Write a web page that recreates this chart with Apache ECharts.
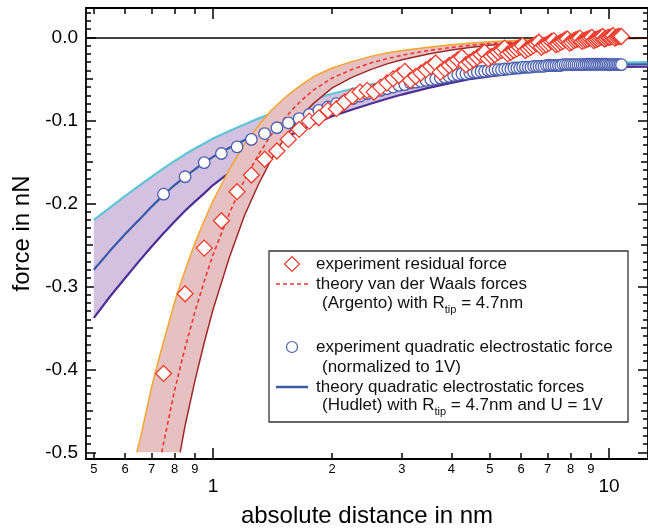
<!DOCTYPE html>
<html><head><meta charset="utf-8">
<script src="https://cdn.jsdelivr.net/npm/echarts@6/dist/echarts.min.js"></script>
<style>html,body{margin:0;padding:0;background:#fff}#c{width:648px;height:532px}</style>
</head><body><div id="c"></div>
<script>
// ---------- data ----------
// electrostatic theory (Hudlet) : band upper edge, centre line, lower edge
const eDist   = [0.5,0.55,0.6,0.65,0.7,0.75,0.8,0.85,0.9,0.95,1.0,1.1,1.2,1.3,1.4,1.5,1.6,1.7,1.8,2.0,2.25,2.5,2.75,3.0,3.5,4.0,4.5,5.0,6.0,7.0,8.0,9.0,10.0,12.5];
const eUpper  = [-0.220,-0.205,-0.191,-0.179,-0.168,-0.158,-0.149,-0.141,-0.134,-0.128,-0.122,-0.113,-0.105,-0.098,-0.092,-0.087,-0.082,-0.078,-0.074,-0.068,-0.062,-0.057,-0.053,-0.050,-0.045,-0.041,-0.038,-0.036,-0.034,-0.0325,-0.0318,-0.0312,-0.0308,-0.030];
const eCenter = [-0.280,-0.257,-0.237,-0.220,-0.204,-0.190,-0.178,-0.168,-0.159,-0.151,-0.144,-0.133,-0.124,-0.116,-0.109,-0.103,-0.098,-0.093,-0.088,-0.080,-0.073,-0.067,-0.062,-0.058,-0.051,-0.046,-0.042,-0.040,-0.037,-0.035,-0.034,-0.0335,-0.033,-0.0325];
const eLower  = [-0.338,-0.312,-0.290,-0.270,-0.252,-0.236,-0.222,-0.209,-0.198,-0.188,-0.178,-0.163,-0.150,-0.140,-0.131,-0.123,-0.116,-0.110,-0.104,-0.095,-0.087,-0.080,-0.074,-0.069,-0.061,-0.055,-0.050,-0.047,-0.0425,-0.040,-0.038,-0.037,-0.036,-0.0355];

// van der Waals theory (Argento) : band upper edge, centre (dashed), lower edge
const vDist   = [0.642,0.66,0.68,0.70,0.72,0.742,0.76,0.78,0.80,0.826,0.85,0.90,0.95,1.0,1.1,1.2,1.3,1.4,1.5,1.6,1.7,1.8,2.0,2.25,2.5,2.75,3.0,3.5,4.0,4.5,5.0,6.0,7.0,8.0,9.0,10.0,12.5];
const vUpper  = [-0.500,-0.477,-0.448,-0.421,-0.398,-0.375,-0.357,-0.338,-0.319,-0.298,-0.281,-0.248,-0.221,-0.197,-0.159,-0.129,-0.107,-0.0885,-0.075,-0.064,-0.055,-0.047,-0.037,-0.029,-0.023,-0.019,-0.016,-0.012,-0.009,-0.007,-0.0055,-0.0036,-0.0025,-0.0018,-0.0013,-0.001,-0.0006];
const vCenter = [-0.672,-0.636,-0.597,-0.561,-0.530,-0.500,-0.476,-0.450,-0.425,-0.398,-0.374,-0.331,-0.294,-0.262,-0.212,-0.172,-0.142,-0.118,-0.100,-0.085,-0.073,-0.063,-0.049,-0.0385,-0.031,-0.0258,-0.0217,-0.0159,-0.0122,-0.0095,-0.0076,-0.0050,-0.0035,-0.0025,-0.0019,-0.0014,-0.0008];
const vLower  = [-0.84,-0.795,-0.746,-0.701,-0.663,-0.625,-0.595,-0.5625,-0.531,-0.500,-0.468,-0.414,-0.368,-0.328,-0.265,-0.215,-0.178,-0.148,-0.125,-0.106,-0.091,-0.079,-0.061,-0.048,-0.039,-0.032,-0.027,-0.020,-0.0153,-0.0119,-0.0095,-0.0063,-0.0044,-0.0031,-0.0024,-0.0018,-0.001];

// experiments
const expDist = [
 0.75,0.85,0.95,1.05,1.15,1.25,1.35,1.45,1.55,1.65,
 1.75,1.85,1.95,2.05,2.15,2.25,2.35,2.45,2.55,2.65,
 2.75,2.85,2.95,3.05,3.15,3.25,3.35,3.45,3.55,3.65,
 3.75,3.85,3.95,4.05,4.15,4.25,4.35,4.45,4.55,4.65,
 4.75,4.85,4.95,5.05,5.15,5.25,5.35,5.45,5.55,5.65,
 5.75,5.85,5.95,6.05,6.15,6.25,6.35,6.45,6.55,6.65,
 6.75,6.85,6.95,7.05,7.15,7.25,7.35,7.45,7.55,7.65,
 7.75,7.85,7.95,8.05,8.15,8.25,8.35,8.45,8.55,8.65,
 8.75,8.85,8.95,9.05,9.15,9.25,9.35,9.45,9.55,9.65,
 9.75,9.85,9.95,10.05,10.15,10.25,10.35,10.45,10.55,10.65,
 10.75];
const expResidual = [
 -0.405,-0.309,-0.254,-0.221,-0.186,-0.166,-0.147,-0.137,-0.123,-0.111,
 -0.101,-0.097,-0.088,-0.086,-0.078,-0.071,-0.066,-0.064,-0.066,-0.060,
 -0.055,-0.050,-0.046,-0.041,-0.052,-0.047,-0.043,-0.039,-0.035,-0.031,
 -0.042,-0.038,-0.034,-0.031,-0.027,-0.024,-0.033,-0.030,-0.027,-0.024,
 -0.021,-0.018,-0.026,-0.023,-0.021,-0.018,-0.016,-0.013,-0.020,-0.018,
 -0.016,-0.014,-0.012,-0.010,-0.016,-0.014,-0.012,-0.010,-0.008,-0.006,
 -0.012,-0.010,-0.009,-0.007,-0.005,-0.004,-0.009,-0.008,-0.006,-0.005,
 -0.003,-0.002,-0.007,-0.006,-0.004,-0.003,-0.002,-0.001,-0.005,-0.004,
 -0.003,-0.002,-0.001,0.000,-0.004,-0.003,-0.002,-0.001,0.000,0.001,
 -0.002,-0.001,0.000,0.000,0.001,0.002,-0.001,0.000,0.001,0.001,
 0.001];
const expElectro = [
 -0.189,-0.168,-0.151,-0.140,-0.132,-0.123,-0.116,-0.109,-0.103,-0.098,
 -0.093,-0.088,-0.084,-0.080,-0.077,-0.074,-0.071,-0.068,-0.066,-0.064,
 -0.062,-0.060,-0.058,-0.057,-0.055,-0.054,-0.053,-0.052,-0.051,-0.050,
 -0.049,-0.048,-0.047,-0.046,-0.045,-0.044,-0.044,-0.043,-0.042,-0.042,
 -0.041,-0.041,-0.040,-0.040,-0.039,-0.039,-0.039,-0.038,-0.038,-0.038,
 -0.037,-0.037,-0.037,-0.036,-0.036,-0.036,-0.036,-0.035,-0.035,-0.035,
 -0.035,-0.035,-0.034,-0.034,-0.034,-0.034,-0.034,-0.034,-0.034,-0.033,
 -0.033,-0.033,-0.033,-0.033,-0.033,-0.033,-0.033,-0.033,-0.033,-0.033,
 -0.0325,-0.0325,-0.0325,-0.0325,-0.0325,-0.0325,-0.0325,-0.0325,-0.0325,-0.0325,
 -0.0325,-0.0325,-0.033,-0.033,-0.033,-0.033,-0.033,-0.033,-0.033,-0.033,
 -0.033];

// ticks and tick labels
const xMinorTicks  = [0.5,0.6,0.7,0.8,0.9,2,3,4,5,6,7,8,9];
const xMinorLabels = ['5','6','7','8','9','2','3','4','5','6','7','8','9'];
const xMajorTicks  = [1,10];
const xMajorLabels = ['1','10'];
const yMajorTicks  = [0,-0.1,-0.2,-0.3,-0.4,-0.5];
const yMajorLabels = ['0.0','-0.1','-0.2','-0.3','-0.4','-0.5'];
const yMidTicks    = [-0.05,-0.15,-0.25,-0.35,-0.45];
const yMinorTicks  = [0.03,0.02,0.01,-0.01,-0.02,-0.03,-0.04,-0.06,-0.07,-0.08,-0.09,
  -0.11,-0.12,-0.13,-0.14,-0.16,-0.17,-0.18,-0.19,-0.21,-0.22,-0.23,-0.24,-0.26,-0.27,-0.28,-0.29,
  -0.31,-0.32,-0.33,-0.34,-0.36,-0.37,-0.38,-0.39,-0.41,-0.42,-0.43,-0.44,-0.46,-0.47,-0.48,-0.49];

// ---------- chart ----------
const FONT = '"Liberation Sans", Arial, Helvetica, sans-serif';
const X_MIN = 0.47775, X_MAX = 12.546, Y_MIN = -0.5081, Y_MAX = 0.0353;
const CLIP = -0.5;

function lookup(vals, labels, v) {
  for (let i = 0; i < vals.length; i++) {
    if (Math.abs(vals[i] - v) <= 1e-6 + Math.abs(vals[i]) * 1e-6) return labels[i];
  }
  return '';
}
function pairs(xs, ys) { return xs.map((x, i) => [x, ys[i]]); }
function pairsClipped(xs, ys) { return xs.map((x, i) => [x, ys[i]]).filter(p => p[1] >= CLIP - 1e-9); }

function xAx(position, ticks, len, showLine, label, extra) {
  return Object.assign({
    type: 'log', logBase: 10, min: X_MIN, max: X_MAX, position: position, offset: 0,
    axisLine: { show: showLine, onZero: false, lineStyle: { color: '#000', width: 1.8 } },
    axisTick: { show: true, inside: true, length: len, customValues: ticks, lineStyle: { color: '#000', width: 1.5 } },
    axisLabel: label || { show: false },
    splitLine: { show: false }, minorTick: { show: false }, minorSplitLine: { show: false }
  }, extra || {});
}
function yAx(position, ticks, len, showLine, label, extra) {
  return Object.assign({
    type: 'value', min: Y_MIN, max: Y_MAX, position: position, offset: 0,
    axisLine: { show: showLine, onZero: false, lineStyle: { color: '#000', width: 1.8 } },
    axisTick: { show: true, inside: true, length: len, customValues: ticks, lineStyle: { color: '#000', width: 1.5 } },
    axisLabel: label || { show: false },
    splitLine: { show: false }, minorTick: { show: false }
  }, extra || {});
}

// band polygon (upper edge forward, lower edge backward), mapped through the axes via api.coord
function bandSeries(name, xs, up, lo, color, z) {
  const upC = up.map(v => Math.max(v, CLIP));
  const loC = lo.map(v => Math.max(v, CLIP));
  return {
    name: name, type: 'custom', coordinateSystem: 'cartesian2d', z: z, silent: true,
    data: [[xs[0], upC[0]]],
    renderItem: function (params, api) {
      const pts = [];
      for (let i = 0; i < xs.length; i++) pts.push(api.coord([xs[i], upC[i]]));
      for (let i = xs.length - 1; i >= 0; i--) pts.push(api.coord([xs[i], loC[i]]));
      const cs = params.coordSys;
      return {
        type: 'polygon', shape: { points: pts }, style: { fill: color, stroke: 'none' },
        clipPath: { type: 'rect', shape: { x: cs.x, y: cs.y, width: cs.width, height: cs.height } }
      };
    }
  };
}

const option = {
  animation: false,
  backgroundColor: '#fff',
  grid: { left: 86, right: 0, top: 8, bottom: 73, containLabel: false, outerBoundsMode: 'none' },
  xAxis: [
    xAx('bottom', xMinorTicks, 6, true,
      { show: true, customValues: xMinorTicks, margin: 4, fontSize: 13, color: '#000', fontFamily: FONT,
        formatter: v => lookup(xMinorTicks, xMinorLabels, v) },
      { name: 'absolute distance in nm', nameLocation: 'middle', nameGap: 45,
        nameTextStyle: { fontSize: 24, color: '#000', fontFamily: FONT } }),
    xAx('bottom', xMajorTicks, 11, false,
      { show: true, customValues: xMajorTicks, margin: 18, fontSize: 19, color: '#000', fontFamily: FONT,
        formatter: v => lookup(xMajorTicks, xMajorLabels, v) }),
    xAx('top', xMinorTicks, 6, true),
    xAx('top', xMajorTicks, 11, false)
  ],
  yAxis: [
    yAx('left', yMajorTicks, 10, true,
      { show: true, customValues: yMajorTicks, margin: 8, fontSize: 19, color: '#000', fontFamily: FONT,
        formatter: v => lookup(yMajorTicks, yMajorLabels, v) },
      { name: 'force in nN', nameLocation: 'middle', nameGap: 50, nameRotate: 90,
        nameTextStyle: { fontSize: 24, color: '#000', fontFamily: FONT } }),
    yAx('left', yMidTicks, 7, false),
    yAx('left', yMinorTicks, 5, false),
    yAx('right', yMajorTicks, 10, true),
    yAx('right', yMidTicks, 7, false),
    yAx('right', yMinorTicks, 5, false)
  ],
  series: [
    Object.assign(bandSeries('electrostatic band', eDist, eUpper, eLower, '#d4c1e1', 1), {
      markLine: { silent: true, symbol: ['none', 'none'], label: { show: false },
        lineStyle: { color: '#000', width: 1.5, type: 'solid' }, data: [{ yAxis: 0 }] } }),
    { name: 'eUpper', type: 'line', z: 2, data: pairs(eDist, eUpper), symbol: 'none', lineStyle: { color: '#5cc6d6', width: 2.2 } },
    { name: 'eLower', type: 'line', z: 2, data: pairs(eDist, eLower), symbol: 'none', lineStyle: { color: '#4a2f94', width: 2.2 } },
    { name: 'theory quadratic electrostatic forces', type: 'line', z: 2, data: pairs(eDist, eCenter), symbol: 'none', lineStyle: { color: '#3b5aa6', width: 2.2 } },
    bandSeries('van der Waals band', vDist, vUpper, vLower, '#e7c0c1', 3),
    { name: 'vUpper', type: 'line', z: 4, data: pairsClipped(vDist, vUpper), symbol: 'none', lineStyle: { color: '#f4a52c', width: 1.5 } },
    { name: 'vLower', type: 'line', z: 4, data: pairsClipped(vDist, vLower), symbol: 'none', lineStyle: { color: '#9e2a2a', width: 1.5 } },
    { name: 'theory van der Waals forces', type: 'line', z: 4, data: pairsClipped(vDist, vCenter), symbol: 'none',
      lineStyle: { color: '#ef3535', width: 1.6, type: [4, 3] } },
    { name: 'experiment quadratic electrostatic force', type: 'scatter', z: 10, data: pairs(expDist, expElectro),
      symbol: 'circle', symbolSize: 11.5, itemStyle: { color: '#ffffff', borderColor: '#4a5fae', borderWidth: 1.3, opacity: 1 } },
    { name: 'experiment residual force', type: 'scatter', z: 11, data: pairs(expDist, expResidual),
      symbol: 'diamond', symbolSize: 16, itemStyle: { color: '#ffffff', borderColor: '#ef3b2c', borderWidth: 1.3, opacity: 1 } }
  ],
  graphic: [
    { type: 'rect', shape: { x: 269, y: 251, width: 359, height: 171 }, z: 100,
      style: { fill: '#fff', stroke: '#333', lineWidth: 1.3 } },
    { type: 'polygon', z: 101, shape: { points: [[292, 256.5], [299.5, 264], [292, 271.5], [284.5, 264]] },
      style: { fill: '#fff', stroke: '#ef3b2c', lineWidth: 1.2 } },
    { type: 'line', z: 101, shape: { x1: 276, y1: 284, x2: 308, y2: 284 },
      style: { stroke: '#ef3535', lineWidth: 1.5, lineDash: [4, 3] } },
    { type: 'circle', z: 101, shape: { cx: 292, cy: 347, r: 5.5 },
      style: { fill: '#fff', stroke: '#4a5fae', lineWidth: 1.2 } },
    { type: 'line', z: 101, shape: { x1: 276, y1: 387, x2: 308, y2: 387 },
      style: { stroke: '#3b5aa6', lineWidth: 2.5 } }
  ]
};

const legendLines = [
  [316, 264, 'experiment residual force'],
  [316, 284, 'theory van der Waals forces'],
  [322, 303, '(Argento) with R{sub|tip} = 4.7nm'],
  [316, 347, 'experiment quadratic electrostatic force'],
  [322, 367, '(normalized to 1V)'],
  [316, 387, 'theory quadratic electrostatic forces'],
  [322, 405, '(Hudlet) with R{sub|tip} = 4.7nm and U = 1V']
];
legendLines.forEach(l => {
  option.graphic.push({
    type: 'text', z: 102, x: l[0], y: l[1],
    style: { text: l[2], fontSize: 17, fontFamily: FONT, fill: '#111', align: 'left', verticalAlign: 'middle',
      rich: { sub: { fontSize: 11, fontFamily: FONT, fill: '#111', padding: [14, 0, 0, 0] } } }
  });
});

const chart = echarts.init(document.getElementById('c'), null, { renderer: 'canvas', width: 648, height: 532 });
chart.setOption(option);
</script>
</body></html>
